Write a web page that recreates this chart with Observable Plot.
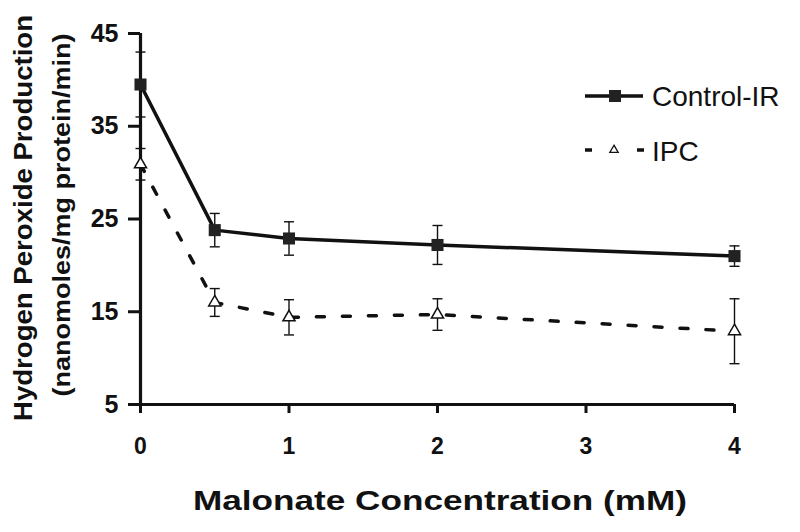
<!DOCTYPE html>
<html><head><meta charset="utf-8">
<script src="https://cdn.jsdelivr.net/npm/d3@7"></script>
<script src="https://cdn.jsdelivr.net/npm/@observablehq/plot@0.6"></script>
<style>body{margin:0;background:#fff}</style>
</head><body><div id="chart"></div>
<script>
const concentrations = [0, 0.5, 1, 2, 4];
const controlMean = [39.5, 23.8, 22.9, 22.2, 21.0];
const controlErr  = [3.5, 1.8, 1.8, 2.1, 1.1];
const ipcMean     = [30.9, 16.0, 14.4, 14.7, 12.9];
const ipcErr      = [1.7, 1.5, 1.9, 1.7, 3.5];
const xTicks = [0, 1, 2, 3, 4];
const yTicks = [5, 15, 25, 35, 45];
const seriesNames = ["Control-IR", "IPC"];
const xTitle = "Malonate Concentration (mM)";
const yTitle1 = "Hydrogen Peroxide Production";
const yTitle2 = "(nanomoles/mg protein/min)";

const control = concentrations.map((x, i) => ({x, y: controlMean[i], lo: controlMean[i] - controlErr[i], hi: controlMean[i] + controlErr[i]}));
const ipc = concentrations.map((x, i) => ({x, y: ipcMean[i], lo: ipcMean[i] - ipcErr[i], hi: ipcMean[i] + ipcErr[i]}));
const both = control.concat(ipc);

const cap = {draw(ctx, size) { const w = Math.sqrt(size / Math.PI); ctx.moveTo(-w, 0); ctx.lineTo(w, 0); }};
const font = "'Liberation Sans', Arial, sans-serif";

const svg = Plot.plot({
  width: 800, height: 532,
  marginLeft: 140, marginRight: 66, marginTop: 33, marginBottom: 128,
  style: {fontFamily: font, background: "#fff", color: "#111"},
  x: {domain: [0, 4]},
  y: {domain: [5, 45]},
  marks: [
    Plot.axisY({ticks: yTicks, tickFormat: () => "", tickSize: 12, strokeWidth: 3, label: null}),
    Plot.axisX({ticks: xTicks, tickFormat: () => "", tickSize: 9, strokeWidth: 3, label: null}),
    Plot.text(yTicks, {x: 0, y: d => d, text: d => String(d), dx: -22, textAnchor: "end", fontSize: 25, fontWeight: "bold", fill: "#111"}),
    Plot.text(xTicks, {x: d => d, y: 5, text: d => String(d), dy: 42, fontSize: 23, fontWeight: "bold", fill: "#111"}),
    Plot.ruleY([5], {strokeWidth: 3.2, stroke: "#111"}),
    Plot.ruleX([0], {strokeWidth: 3.2, stroke: "#111"}),
    Plot.ruleX(both, {x: "x", y1: "lo", y2: "hi", stroke: "#111", strokeWidth: 1.4}),
    Plot.dot(both, {x: "x", y: "hi", symbol: cap, r: 5, stroke: "#111", strokeWidth: 1.4}),
    Plot.dot(both, {x: "x", y: "lo", symbol: cap, r: 5, stroke: "#111", strokeWidth: 1.4}),
    Plot.line(control, {x: "x", y: "y", stroke: "#111", strokeWidth: 3.5}),
    Plot.line(ipc, {x: "x", y: "y", stroke: "#111", strokeWidth: 3.5, strokeDasharray: "8,18"}),
    Plot.dot(control, {x: "x", y: "y", symbol: "square", r: 6.8, fill: "#222", stroke: "none"}),
    Plot.dot(ipc, {x: "x", y: "y", symbol: "triangle", r: 4.5, fill: "#fff", stroke: "#111", strokeWidth: 1.5})
  ]
});

const s = d3.select(svg);
function addText(txt, x, y, opts) {
  const t = s.append("text").attr("x", 0).attr("y", 0)
    .attr("transform", `translate(${x},${y})` + (opts.rotate ? ` rotate(${opts.rotate})` : ""))
    .attr("font-family", font).attr("font-size", opts.size).attr("font-weight", opts.weight || "normal")
    .attr("text-anchor", opts.anchor || "start").attr("fill", "#111").text(txt);
  if (opts.len) t.attr("textLength", opts.len).attr("lengthAdjust", "spacingAndGlyphs");
  return t;
}
addText(xTitle, 440, 510, {size: 28, weight: "bold", anchor: "middle", len: 494});
addText(yTitle1, 32, 218, {size: 25, weight: "bold", anchor: "middle", rotate: -90, len: 406});
addText(yTitle2, 70, 215, {size: 24, weight: "bold", anchor: "middle", rotate: -90, len: 363});

// legend
s.append("line").attr("x1", 585).attr("x2", 643).attr("y1", 96).attr("y2", 96).attr("stroke", "#111").attr("stroke-width", 3.5);
s.append("path").attr("d", d3.symbol(d3.symbolSquare, 144)()).attr("transform", "translate(615,96)").attr("fill", "#222");
addText(seriesNames[0], 652, 106, {size: 28});
s.append("line").attr("x1", 585).attr("x2", 592).attr("y1", 150).attr("y2", 150).attr("stroke", "#111").attr("stroke-width", 3.5);
s.append("line").attr("x1", 637).attr("x2", 644).attr("y1", 150).attr("y2", 150).attr("stroke", "#111").attr("stroke-width", 3.5);
s.append("path").attr("d", d3.symbol(d3.symbolTriangle, 30)()).attr("transform", "translate(614,150)").attr("fill", "#fff").attr("stroke", "#111").attr("stroke-width", 1.3);
addText(seriesNames[1], 652, 161, {size: 28});

document.getElementById("chart").appendChild(svg);
</script>
</body></html>
